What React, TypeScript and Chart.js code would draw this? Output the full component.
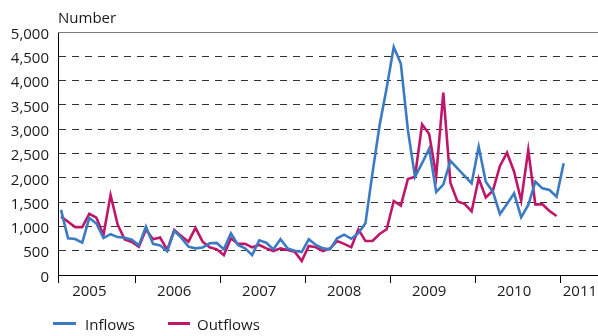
import React, { useEffect, useRef } from 'react';
import { Chart, registerables } from 'chart.js';

Chart.register(...registerables);

// Monthly series (one value per month, first point = first month shown)
const inflows = [
  1340, 755, 740, 665, 1175, 1060, 760, 840, 780, 765, 725, 610,
  995, 640, 610, 490, 910, 765, 583, 548, 565, 652, 660, 528,
  857, 617, 548, 410, 715, 665, 528, 735, 548, 500, 470, 735,
  617, 548, 528, 755, 830, 745, 860, 1063, 2100, 3080, 3850, 4690,
  4350, 2980, 2020, 2300, 2600, 1710, 1860, 2350, 2195, 2040, 1886, 2640,
  1920, 1714, 1255, 1461, 1680, 1187, 1440, 1920, 1783, 1750, 1611, 2298,
];

const outflows = [
  1200, 1097, 985, 985, 1260, 1180, 823, 1646, 1040, 730, 680, 583,
  935, 735, 770, 515, 926, 800, 686, 970, 686, 570, 528, 410,
  755, 640, 640, 570, 617, 548, 494, 548, 514, 480, 290, 597,
  570, 494, 548, 700, 640, 570, 940, 700, 700, 844, 940, 1523,
  1426, 1975, 2023, 3100, 2901, 2043, 3751, 1900, 1515, 1465, 1310, 1990,
  1598, 1735, 2243, 2517, 2126, 1530, 2572, 1454, 1454, 1317, 1214,
];

const yearLabels = ['2005', '2006', '2007', '2008', '2009', '2010', '2011'];
const yTickValues = [0, 500, 1000, 1500, 2000, 2500, 3000, 3500, 4000, 4500, 5000];
const seriesNames = ['Inflows', 'Outflows'];
const yTitle = 'Number';

const BLUE = '#3a7bc4';
const RED = '#c0166a';
const TEXT = '#1a1a1a';
const FONT = "'Open Sans', sans-serif";

const X_MIN = -0.424;
const X_MAX = 75.85;
// year boundaries fall between months (index + 0.5)
const boundaryTicks = [10.5, 22.5, 34.5, 46.5, 58.5, 70.5];
const labelTicks = [4, 16, 28, 40, 52, 64, 73.3];

export default function App() {
  const ref = useRef<HTMLCanvasElement | null>(null);

  useEffect(() => {
    document.body.style.margin = '0';
    const canvas = ref.current;
    if (!canvas) return;

    const overlay = {
      id: 'overlay',
      afterDraw(chart: any) {
        const { ctx, chartArea } = chart;
        ctx.save();
        // top frame line
        ctx.strokeStyle = '#7a7a7a';
        ctx.lineWidth = 1;
        ctx.beginPath();
        ctx.moveTo(chartArea.left, Math.round(chartArea.top) + 0.5);
        ctx.lineTo(chartArea.right, Math.round(chartArea.top) + 0.5);
        ctx.stroke();
        // axis title
        ctx.fillStyle = TEXT;
        ctx.font = `15px ${FONT}`;
        ctx.textBaseline = 'alphabetic';
        ctx.textAlign = 'left';
        ctx.fillText(yTitle, 58, 23);
        // legend
        const items = [
          { name: seriesNames[0], color: BLUE, x0: 53, x1: 76, tx: 85 },
          { name: seriesNames[1], color: RED, x0: 168, x1: 190, tx: 197 },
        ];
        for (const it of items) {
          ctx.strokeStyle = it.color;
          ctx.lineWidth = 3;
          ctx.beginPath();
          ctx.moveTo(it.x0, 323.5);
          ctx.lineTo(it.x1, 323.5);
          ctx.stroke();
          ctx.fillStyle = TEXT;
          ctx.fillText(it.name, it.tx, 330);
        }
        ctx.restore();
      },
    };

    const chart = new Chart(canvas, {
      type: 'line',
      data: {
        datasets: [
          {
            label: seriesNames[0],
            data: inflows.map((v, i) => ({ x: i, y: v })),
            borderColor: BLUE,
            backgroundColor: BLUE,
            borderWidth: 2.6,
            pointRadius: 0,
            tension: 0,
          },
          {
            label: seriesNames[1],
            data: outflows.map((v, i) => ({ x: i, y: v })),
            borderColor: RED,
            backgroundColor: RED,
            borderWidth: 2.6,
            pointRadius: 0,
            tension: 0,
          },
        ],
      },
      options: {
        animation: false,
        responsive: true,
        maintainAspectRatio: false,
        layout: { padding: { top: 32, left: 0, right: 0, bottom: 0 } },
        plugins: {
          legend: { display: false },
          tooltip: { enabled: false },
        },
        scales: {
          x: {
            type: 'linear',
            min: X_MIN,
            max: X_MAX,
            afterBuildTicks: (scale: any) => {
              const vals = [X_MIN, ...boundaryTicks, ...labelTicks].sort((a, b) => a - b);
              scale.ticks = vals.map((v) => ({ value: v }));
            },
            afterFit: (scale: any) => {
              scale.height = 61;
              scale.paddingLeft = 0;
              scale.paddingRight = 0;
            },
            ticks: {
              autoSkip: false,
              maxRotation: 0,
              minRotation: 0,
              padding: 0,
              color: TEXT,
              font: { family: FONT, size: 15 },
              callback: (value: any) => {
                const idx = labelTicks.indexOf(Number(value));
                return idx >= 0 ? yearLabels[idx] : '';
              },
            },
            grid: {
              drawOnChartArea: false,
              drawTicks: true,
              tickLength: 8,
              lineWidth: 1,
              tickColor: (c: any) =>
                c.tick && labelTicks.indexOf(c.tick.value) >= 0 ? 'rgba(0,0,0,0)' : '#000',
            },
            border: { display: true, color: '#000', width: 1 },
          },
          y: {
            type: 'linear',
            min: 0,
            max: 5000,
            afterBuildTicks: (scale: any) => {
              scale.ticks = yTickValues.map((v) => ({ value: v }));
            },
            afterFit: (scale: any) => {
              scale.width = 58;
            },
            ticks: {
              padding: 9,
              labelOffset: 2.5,
              color: TEXT,
              font: { family: FONT, size: 15 },
              callback: (value: any) => Number(value).toLocaleString('en-US'),
            },
            grid: {
              drawTicks: false,
              lineWidth: 1,
              color: (c: any) =>
                c.tick && (c.tick.value === 0 || c.tick.value === 5000) ? 'rgba(0,0,0,0)' : '#333',
            },
            border: { display: true, color: '#000', width: 1, dash: [7, 6] },
          },
        },
      },
      plugins: [overlay],
    });

    return () => chart.destroy();
  }, []);

  return (
    <div style={{ position: 'relative', width: 598, height: 336 }}>
      <canvas ref={ref} />
    </div>
  );
}
